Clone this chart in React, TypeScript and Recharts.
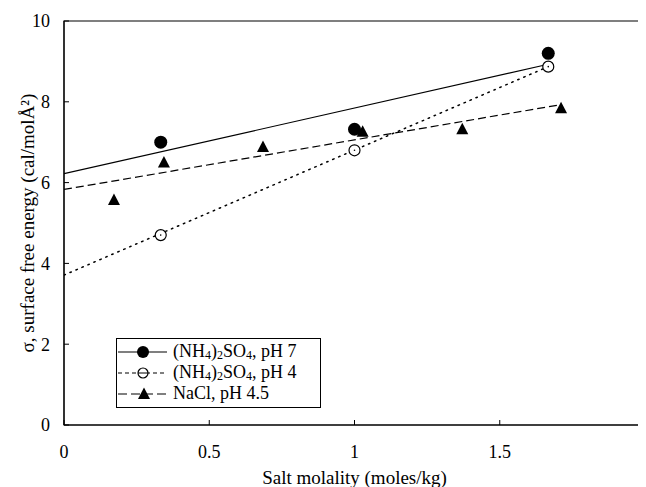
import React from 'react';
import { ComposedChart, Line, Scatter, XAxis, YAxis, ReferenceArea, Legend } from 'recharts';

// Measured data points
const ph7X = [0.333, 1.0, 1.667];
const ph7Y = [7.0, 7.32, 9.2];
const ph4X = [0.333, 1.0, 1.667];
const ph4Y = [4.7, 6.8, 8.87];
const naclX = [0.172, 0.344, 0.685, 1.028, 1.371, 1.711];
const naclY = [5.57, 6.5, 6.88, 7.26, 7.32, 7.84];

// Fitted lines
const fit7X = [0, 1.667];
const fit7Y = [6.22, 8.93];
const fit4X = [0, 1.667];
const fit4Y = [3.71, 8.87];
const fitNaX = [0, 1.711];
const fitNaY = [5.83, 7.93];

const xTicks = [0, 0.5, 1, 1.5, 2];
const yTicks = [0, 2, 4, 6, 8, 10];
const seriesNames = ['(NH4)2SO4, pH 7', '(NH4)2SO4, pH 4', 'NaCl, pH 4.5'];
const xLabel = 'Salt molality (moles/kg)';
const yLabel = 'σ, surface free energy (cal/molÅ²)';

const toRows = (xs: number[], ys: number[]) => xs.map((x, i) => ({ x, y: ys[i] }));

const FONT = '"Liberation Serif", "Times New Roman", serif';

const FilledCircle = (p: any) => <circle cx={p.cx} cy={p.cy} r={6.5} fill="#000" />;
const OpenCircle = (p: any) => (
  <g>
    <circle cx={p.cx} cy={p.cy} r={5.5} fill="#fff" stroke="#000" strokeWidth={1.2} />
    <circle cx={p.cx} cy={p.cy} r={0.8} fill="#000" />
  </g>
);
const Triangle = (p: any) => (
  <polygon
    points={`${p.cx},${p.cy - 6.5} ${p.cx - 6},${p.cy + 5} ${p.cx + 6},${p.cy + 5}`}
    fill="#000"
  />
);

const YTick = (p: any) => {
  const ax = p.x + 14;
  return (
    <g>
      <line x1={ax} x2={ax + 5} y1={p.y} y2={p.y} stroke="#000" strokeWidth={1} />
      <text x={p.x} y={p.y} dy="0.35em" textAnchor="end" fontFamily={FONT} fontSize={18} fill="#000">
        {p.payload.value}
      </text>
    </g>
  );
};

const XTick = (p: any) => {
  const ay = p.y - 20;
  return (
    <g>
      <line x1={p.x} x2={p.x} y1={ay} y2={ay - 5} stroke="#000" strokeWidth={1} />
      <text x={p.x} y={p.y} dy="0.71em" textAnchor="middle" fontFamily={FONT} fontSize={18} fill="#000">
        {p.payload.value}
      </text>
    </g>
  );
};

const renderChem = (s: string) => {
  const parts: React.ReactNode[] = [];
  for (let i = 0; i < s.length; i++) {
    const c = s[i];
    const prev = i > 0 ? s[i - 1] : '';
    if (/\d/.test(c) && /[A-Za-z)]/.test(prev)) {
      parts.push(
        <span key={i} style={{ fontSize: 12, verticalAlign: '-2px', lineHeight: 0 }}>
          {c}
        </span>
      );
    } else {
      parts.push(<span key={i}>{c}</span>);
    }
  }
  return parts;
};

const LegendSample = ({ idx }: { idx: number }) => {
  let line: React.ReactNode;
  let marker: React.ReactNode;
  if (idx === 0) {
    line = <line x1={1} x2={50} y1={10} y2={10} stroke="#000" strokeWidth={1.2} />;
    marker = <circle cx={26} cy={10} r={6} fill="#000" />;
  } else if (idx === 1) {
    line = <line x1={1} x2={50} y1={10} y2={10} stroke="#000" strokeWidth={1.2} strokeDasharray="4 3" />;
    marker = (
      <g>
        <circle cx={26} cy={10} r={5} fill="#fff" stroke="#000" strokeWidth={1.2} />
        <line x1={21} x2={31} y1={10} y2={10} stroke="#000" strokeWidth={1} />
      </g>
    );
  } else {
    line = <line x1={1} x2={50} y1={10} y2={10} stroke="#000" strokeWidth={1.2} strokeDasharray="9 4" />;
    marker = <polygon points="27,3.5 21,15 33,15" fill="#000" />;
  }
  return (
    <svg width={52} height={20} style={{ display: 'block', flex: 'none' }}>
      {line}
      {marker}
    </svg>
  );
};

const LegendBox = () => (
  <div
    style={{
      boxSizing: 'border-box',
      border: '1px solid #000',
      background: '#fff',
      width: 205,
      padding: '2px 0 3px 0',
      fontFamily: FONT,
      fontSize: 18,
      color: '#000',
    }}
  >
    {seriesNames.map((n, i) => (
      <div key={n} style={{ display: 'flex', alignItems: 'center', height: 21, lineHeight: '21px' }}>
        <LegendSample idx={i} />
        <span style={{ marginLeft: 4, whiteSpace: 'nowrap' }}>{renderChem(n)}</span>
      </div>
    ))}
  </div>
);

const YLabel = (p: any) => {
  const vb = p.viewBox;
  const cx = vb.x + 19;
  const cy = vb.y + vb.height / 2;
  return (
    <text
      x={cx}
      y={cy}
      transform={`rotate(-90, ${cx}, ${cy})`}
      textAnchor="middle"
      dy="0.35em"
      fontFamily={FONT}
      fontSize={19}
      fill="#000"
    >
      {yLabel}
    </text>
  );
};

const XLabel = (p: any) => {
  const vb = p.viewBox;
  const cx = vb.x + vb.width / 2;
  const cy = vb.y + 52;
  return (
    <text x={cx} y={cy} dy="0.35em" textAnchor="middle" fontFamily={FONT} fontSize={19} fill="#000">
      {xLabel}
    </text>
  );
};

export default function App() {
  return (
    <ComposedChart width={638} height={479} margin={{ top: 13, right: 1, bottom: 0, left: 0 }}>
      <XAxis
        type="number"
        dataKey="x"
        domain={[0, 2]}
        ticks={xTicks}
        interval={0}
        allowDataOverflow
        tickSize={0}
        tickMargin={20}
        tick={<XTick />}
        height={62}
        axisLine={{ stroke: '#000' }}
        label={<XLabel />}
      />
      <YAxis
        type="number"
        dataKey="y"
        domain={[0, 10]}
        ticks={yTicks}
        interval={0}
        allowDataOverflow
        tickSize={0}
        tickMargin={14}
        tick={<YTick />}
        width={56}
        axisLine={{ stroke: '#000' }}
        label={<YLabel />}
      />
      <ReferenceArea x1={0} x2={2} y1={0} y2={10} fill="none" stroke="#000" strokeWidth={1.2} ifOverflow="visible" />
      <Line data={toRows(fit7X, fit7Y)} dataKey="y" stroke="#000" strokeWidth={1.2} dot={false} activeDot={false} isAnimationActive={false} legendType="none" />
      <Line data={toRows(fit4X, fit4Y)} dataKey="y" stroke="#000" strokeWidth={1.5} strokeDasharray="1.5 5" strokeLinecap="round" dot={false} activeDot={false} isAnimationActive={false} legendType="none" />
      <Line data={toRows(fitNaX, fitNaY)} dataKey="y" stroke="#000" strokeWidth={1.2} strokeDasharray="8 4" dot={false} activeDot={false} isAnimationActive={false} legendType="none" />
      <Scatter name={seriesNames[0]} data={toRows(ph7X, ph7Y)} shape={FilledCircle} isAnimationActive={false} />
      <Scatter name={seriesNames[1]} data={toRows(ph4X, ph4Y)} shape={OpenCircle} isAnimationActive={false} />
      <Scatter name={seriesNames[2]} data={toRows(naclX, naclY)} shape={Triangle} isAnimationActive={false} />
      <Legend
        layout="horizontal"
        verticalAlign="middle"
        align="center"
        content={() => <LegendBox />}
        wrapperStyle={{ left: 108, top: 330, width: 'auto', height: 'auto' }}
      />
    </ComposedChart>
  );
}
